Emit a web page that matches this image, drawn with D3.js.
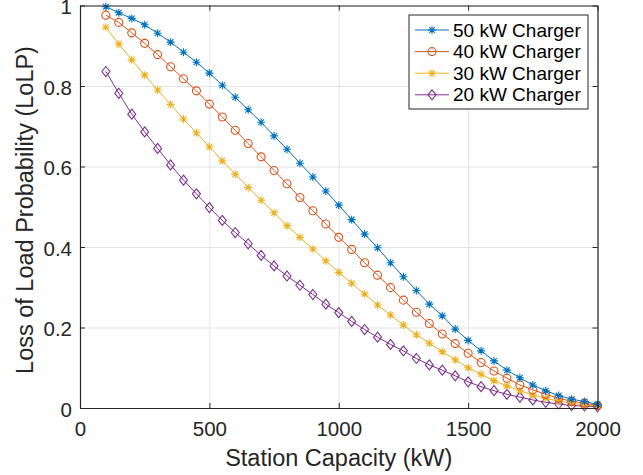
<!DOCTYPE html>
<html>
<head>
<meta charset="utf-8">
<script src="https://cdn.jsdelivr.net/npm/d3@7"></script>
<style>
  body { margin: 0; background: #fff; }
  svg { display: block; font-family: "Liberation Sans", Arial, sans-serif; }
  .grid line { stroke: #e3e3e3; stroke-width: 1; }
  .grid path { display: none; }
  .axis path, .axis line { stroke: #262626; }
  .axis text { fill: #262626; font-size: 20.5px; }
</style>
</head>
<body>
<script>
(function(){

//station capacity (kW)
var capacity = [100, 150, 200, 250, 300, 350, 400, 450, 500, 550, 600, 650, 700, 750,
  800, 850, 900, 950, 1000, 1050, 1100, 1150, 1200, 1250, 1300, 1350, 1400, 1450,
  1500, 1550, 1600, 1650, 1700, 1750, 1800, 1850, 1900, 1950, 2000];

//LoLP for each charger size
var lolp50 = [0.997, 0.982, 0.968, 0.952, 0.931, 0.909, 0.884, 0.859, 0.832, 0.802,
  0.772, 0.741, 0.710, 0.676, 0.643, 0.608, 0.574, 0.539, 0.504, 0.468, 0.432, 0.398,
  0.361, 0.326, 0.292, 0.258, 0.229, 0.196, 0.168, 0.142, 0.117, 0.094, 0.075, 0.057,
  0.043, 0.031, 0.022, 0.016, 0.009];
var lolp40 = [0.976, 0.958, 0.932, 0.906, 0.878, 0.848, 0.818, 0.788, 0.755, 0.723,
  0.690, 0.657, 0.624, 0.590, 0.557, 0.523, 0.490, 0.457, 0.424, 0.394, 0.361, 0.330,
  0.299, 0.268, 0.238, 0.210, 0.184, 0.160, 0.136, 0.113, 0.092, 0.074, 0.057, 0.045,
  0.034, 0.024, 0.017, 0.012, 0.006];
var lolp30 = [0.946, 0.904, 0.865, 0.827, 0.790, 0.754, 0.718, 0.684, 0.649, 0.614,
  0.581, 0.548, 0.516, 0.485, 0.453, 0.424, 0.395, 0.366, 0.337, 0.310, 0.283, 0.256,
  0.231, 0.206, 0.182, 0.161, 0.140, 0.120, 0.100, 0.084, 0.068, 0.055, 0.043, 0.032,
  0.024, 0.017, 0.012, 0.007, 0.005];
var lolp20 = [0.836, 0.782, 0.730, 0.686, 0.645, 0.604, 0.566, 0.532, 0.498, 0.466,
  0.436, 0.408, 0.379, 0.353, 0.328, 0.305, 0.282, 0.258, 0.237, 0.215, 0.195, 0.176,
  0.158, 0.142, 0.123, 0.107, 0.094, 0.080, 0.065, 0.053, 0.043, 0.034, 0.027, 0.020,
  0.014, 0.010, 0.006, 0.005, 0.003];

var seriesNames = ["50 kW Charger", "40 kW Charger", "30 kW Charger", "20 kW Charger"];
var seriesValues = [lolp50, lolp40, lolp30, lolp20];
var seriesColors = ["#0072BD", "#D95319", "#EDB120", "#7E2F8E"];
var seriesMarkers = ["asterisk", "circle", "asterisk", "diamond"];

var xTicks = [0, 500, 1000, 1500, 2000];
var yTicks = [0, 0.2, 0.4, 0.6, 0.8, 1];

//frame
var width = 643, height = 475;
var left = 80, right = 597.5, top = 5.5, bottom = 408;

var svg = d3.select("body").append("svg")
  .attr("width", width)
  .attr("height", height);

var x = d3.scaleLinear().domain([0, 2000]).range([left, right]);
var y = d3.scaleLinear().domain([0, 1]).range([bottom, top]);

//grid lines
svg.append("g").attr("class", "grid")
  .attr("transform", "translate(0," + bottom + ")")
  .call(d3.axisBottom(x).tickValues(xTicks).tickSize(-(bottom - top)).tickFormat(""));
svg.append("g").attr("class", "grid")
  .attr("transform", "translate(" + left + ",0)")
  .call(d3.axisLeft(y).tickValues(yTicks).tickSize(-(right - left)).tickFormat(""));

//marker shapes
function markerPath(type){
  if (type == "asterisk"){
    var r = 4, a = r * 0.72;
    return "M" + (-r) + ",0H" + r + "M0," + (-r) + "V" + r +
      "M" + (-a) + "," + (-a) + "L" + a + "," + a +
      "M" + (-a) + "," + a + "L" + a + "," + (-a);
  }
  if (type == "diamond"){
    return "M0,-5L4,0L0,5L-4,0Z";
  }
  return d3.symbol().type(d3.symbolCircle).size(Math.PI * 16)();
}

var line = d3.line()
  .x(function(d){ return x(d[0]); })
  .y(function(d){ return y(d[1]); });

//draw the series, last first so 50 kW sits on top
for (var s = seriesValues.length - 1; s >= 0; s--){
  var pts = capacity.map(function(c, i){ return [c, seriesValues[s][i]]; });
  var g = svg.append("g");
  g.append("path")
    .datum(pts)
    .attr("fill", "none")
    .attr("stroke", seriesColors[s])
    .attr("stroke-width", 1)
    .attr("d", line);
  g.selectAll(".mk")
    .data(pts)
    .enter()
    .append("path")
    .attr("class", "mk")
    .attr("transform", function(d){ return "translate(" + x(d[0]) + "," + y(d[1]) + ")"; })
    .attr("d", markerPath(seriesMarkers[s]))
    .attr("fill", "none")
    .attr("stroke", seriesColors[s])
    .attr("stroke-width", 1.1);
}

//axes with inward ticks on all sides
svg.append("g").attr("class", "axis")
  .attr("transform", "translate(0," + bottom + ")")
  .call(d3.axisBottom(x).tickValues(xTicks).tickSizeInner(-5).tickSizeOuter(0).tickPadding(13.5)
    .tickFormat(d3.format("d")));
svg.append("g").attr("class", "axis yaxis")
  .attr("transform", "translate(" + left + ",0)")
  .call(d3.axisLeft(y).tickValues(yTicks).tickSizeInner(-5).tickSizeOuter(0).tickPadding(8)
    .tickFormat(d3.format("~g")));
svg.selectAll(".yaxis text").attr("dy", "0.4em");
svg.append("g").attr("class", "axis")
  .attr("transform", "translate(0," + top + ")")
  .call(d3.axisTop(x).tickValues(xTicks).tickSizeInner(-5).tickSizeOuter(0).tickFormat(""));
svg.append("g").attr("class", "axis")
  .attr("transform", "translate(" + right + ",0)")
  .call(d3.axisRight(y).tickValues(yTicks).tickSizeInner(-5).tickSizeOuter(0).tickFormat(""));

svg.selectAll(".axis .domain").attr("stroke-width", 1.2);

//axis labels
svg.append("text")
  .attr("x", (left + right) / 2)
  .attr("y", 466)
  .attr("text-anchor", "middle")
  .attr("fill", "#262626")
  .style("font-size", "23.5px")
  .text("Station Capacity (kW)");

svg.append("text")
  .attr("transform", "translate(33,210) rotate(-90)")
  .attr("text-anchor", "middle")
  .attr("fill", "#262626")
  .style("font-size", "23.5px")
  .text("Loss of Load Probability (LoLP)");

//legend
var legend = svg.append("g").attr("transform", "translate(409,15)");
legend.append("rect")
  .attr("width", 179)
  .attr("height", 94)
  .attr("fill", "#fff")
  .attr("stroke", "#262626")
  .attr("stroke-width", 1);

seriesNames.forEach(function(name, i){
  var ly = 15 + i * 21.6;
  legend.append("line")
    .attr("x1", 6).attr("x2", 40)
    .attr("y1", ly).attr("y2", ly)
    .attr("stroke", seriesColors[i])
    .attr("stroke-width", 1);
  legend.append("path")
    .attr("transform", "translate(23," + ly + ")")
    .attr("d", markerPath(seriesMarkers[i]))
    .attr("fill", "none")
    .attr("stroke", seriesColors[i])
    .attr("stroke-width", 1.1);
  legend.append("text")
    .attr("x", 44)
    .attr("y", ly)
    .attr("dy", "0.35em")
    .attr("fill", "#000")
    .style("font-size", "19px")
    .text(name);
});

})();
</script>
</body>
</html>
